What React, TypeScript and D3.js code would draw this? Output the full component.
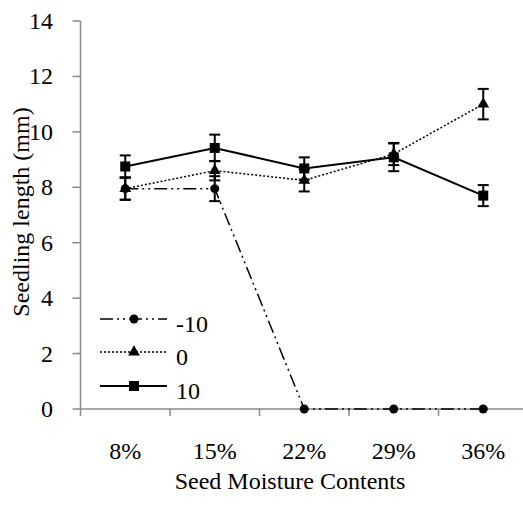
import React from "react";
import * as d3 from "d3";

const categories = ["8%", "15%", "22%", "29%", "36%"];
const seriesNames = ["-10", "0", "10"];
const valuesM10 = [7.95, 7.95, 0, 0, 0];
const errM10 = [0.4, 0.45, 0, 0, 0];
const values0 = [7.95, 8.6, 8.25, 9.2, 11.0];
const err0 = [0.4, 0.35, 0.4, 0.4, 0.55];
const values10 = [8.75, 9.42, 8.68, 9.08, 7.7];
const err10 = [0.4, 0.48, 0.4, 0.5, 0.38];
const yTicks = [0, 2, 4, 6, 8, 10, 12, 14];

const W = 523, H = 509;
const left = 80.5, right = 528, top = 21, bottom = 409;

export default function App() {
  const x = d3.scaleBand<string>().domain(categories).range([left, right]);
  const y = d3.scaleLinear().domain([0, 14]).range([bottom, top]);
  const cx = (c: string) => (x(c) as number) + x.bandwidth() / 2;
  const font = "'Liberation Serif', 'Times New Roman', serif";
  const fs = 24;

  const series = [
    { name: seriesNames[0], vals: valuesM10, errs: errM10, dash: "13,4,2,4,2,4", width: 1.5, marker: "circle" },
    { name: seriesNames[1], vals: values0, errs: err0, dash: "2,2", width: 1.5, marker: "triangle" },
    { name: seriesNames[2], vals: values10, errs: err10, dash: "", width: 2, marker: "square" },
  ];

  const line = d3.line<number>().x((_, i) => cx(categories[i])).y((d) => y(d));

  const marker = (type: string, px: number, py: number, key: string) => {
    if (type === "circle") return <circle key={key} cx={px} cy={py} r={4.5} fill="#000" />;
    if (type === "square") return <rect key={key} x={px - 5} y={py - 5} width={10} height={10} fill="#000" />;
    const sym = d3.symbol(d3.symbolTriangle, 60)();
    return <path key={key} d={sym as string} transform={`translate(${px},${py})`} fill="#000" />;
  };

  const legendY = [319, 352, 386];

  return (
    <svg width={W} height={H} style={{ position: "absolute", left: 0, top: 0 }}>
      <rect width={W} height={H} fill="#fff" />
      {/* axes */}
      <line x1={left} x2={left} y1={top} y2={bottom} stroke="#888" strokeWidth={1.5} />
      <line x1={left} x2={right} y1={bottom} y2={bottom} stroke="#888" strokeWidth={1.5} />
      {yTicks.map((t) => (
        <g key={t}>
          <line x1={left - 8} x2={left} y1={y(t)} y2={y(t)} stroke="#888" strokeWidth={1.5} />
          <text x={53} y={y(t) + 8} textAnchor="end" fontFamily={font} fontSize={fs}>{t}</text>
        </g>
      ))}
      {categories.map((c) => (
        <g key={c}>
          <line x1={(x(c) as number)} x2={(x(c) as number)} y1={bottom} y2={bottom + 7} stroke="#888" strokeWidth={1.5} />
          <text x={cx(c)} y={459} textAnchor="middle" fontFamily={font} fontSize={fs}>{c}</text>
        </g>
      ))}
      <text x={290} y={489} textAnchor="middle" fontFamily={font} fontSize={fs}>Seed Moisture Contents</text>
      <text transform="translate(29,212) rotate(-90)" textAnchor="middle" fontFamily={font} fontSize={fs}>Seedling length (mm)</text>

      {/* series */}
      {series.map((s) => (
        <g key={s.name}>
          <path d={line(s.vals) as string} fill="none" stroke="#000" strokeWidth={s.width} strokeDasharray={s.dash || undefined} />
          {s.vals.map((v, i) => {
            const px = cx(categories[i]);
            const e = s.errs[i];
            if (!e) return null;
            return (
              <g key={i} stroke="#000" strokeWidth={2}>
                <line x1={px} x2={px} y1={y(v + e)} y2={y(v - e)} />
                <line x1={px - 5.5} x2={px + 5.5} y1={y(v + e)} y2={y(v + e)} />
                <line x1={px - 5.5} x2={px + 5.5} y1={y(v - e)} y2={y(v - e)} />
              </g>
            );
          })}
          {s.vals.map((v, i) => marker(s.marker, cx(categories[i]), y(v), s.name + i))}
        </g>
      ))}

      {/* legend */}
      {series.map((s, i) => (
        <g key={"lg" + s.name}>
          <line x1={100} x2={167} y1={legendY[i]} y2={legendY[i]} stroke="#000" strokeWidth={s.width} strokeDasharray={s.dash || undefined} />
          {marker(s.marker, 134, legendY[i], "lm" + i)}
          <text x={176} y={legendY[i] + 13} fontFamily={font} fontSize={fs}>{s.name}</text>
        </g>
      ))}
    </svg>
  );
}
